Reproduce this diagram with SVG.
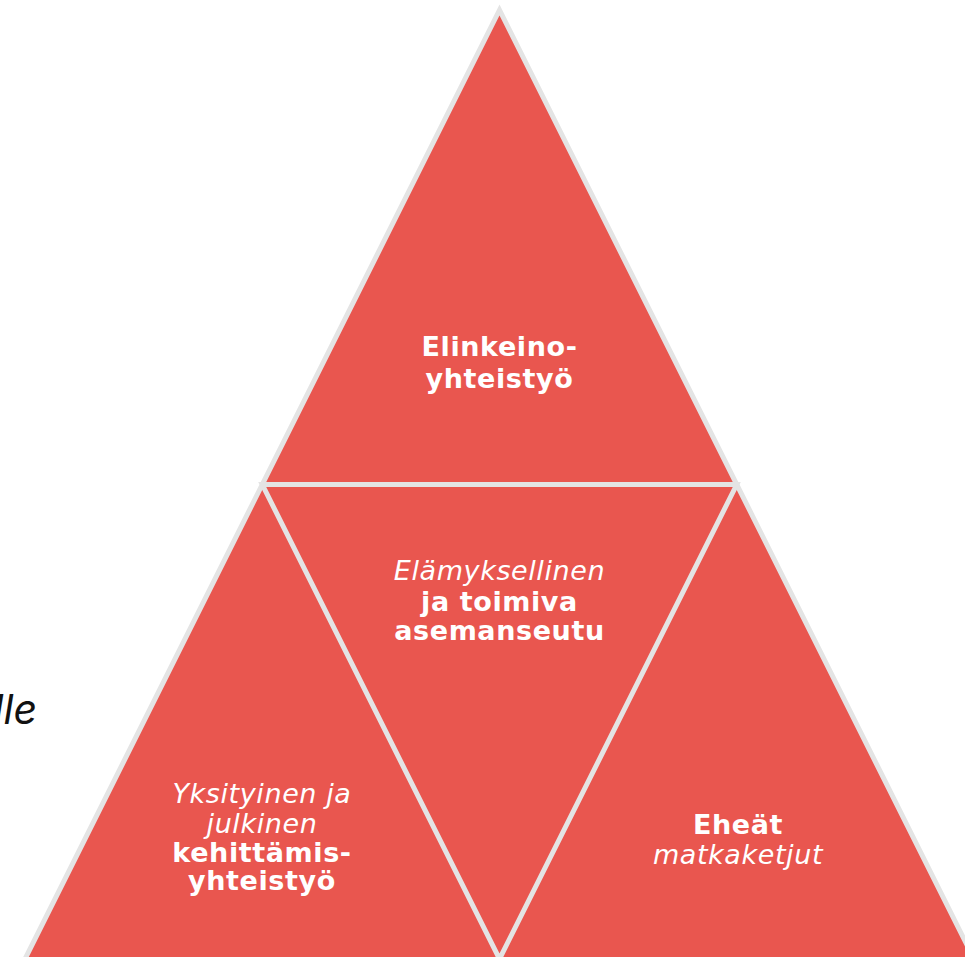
<svg xmlns="http://www.w3.org/2000/svg" width="965" height="957" viewBox="0 0 965 957">
<style>
.tri{fill:#e9564f;stroke:#e4e4e4;stroke-width:5;stroke-linejoin:miter}
.t{font-family:"DejaVu Sans","Liberation Sans",sans-serif;fill:#ffffff;text-anchor:middle;font-size:27px}
.b{font-weight:700;letter-spacing:0.6px}
.i{font-style:italic;font-weight:400;letter-spacing:0.6px}
</style>
<rect width="965" height="957" fill="#ffffff"/>
<text x="37" y="724" font-family="Inter,'Liberation Sans',sans-serif" font-style="italic" font-size="41" text-anchor="end" fill="#111111">lle</text>
<g id="outer">
<polygon class="tri" points="499.5,10 -2,1013 1001,1013"/>
</g>
<g id="connectors">
<polygon class="tri" points="262.25,484.5 736.75,484.5 499.5,959"/>
</g>
<g id="top">
<text class="t b" x="499.5" y="356">Elinkeino-</text>
<text class="t b" x="499.5" y="388">yhteistyö</text>
</g>
<g id="center">
<text class="t i" x="499.5" y="580">Elämyksellinen</text>
<text class="t b" x="499.5" y="611">ja toimiva</text>
<text class="t b" x="499.5" y="640">asemanseutu</text>
</g>
<g id="left">
<text class="t i" x="262" y="803">Yksityinen ja</text>
<text class="t i" x="262" y="833">julkinen</text>
<text class="t b" x="262" y="862">kehittämis-</text>
<text class="t b" x="262" y="890">yhteistyö</text>
</g>
<g id="right">
<text class="t b" x="738" y="834">Eheät</text>
<text class="t i" x="738" y="864">matkaketjut</text>
</g>
</svg>
